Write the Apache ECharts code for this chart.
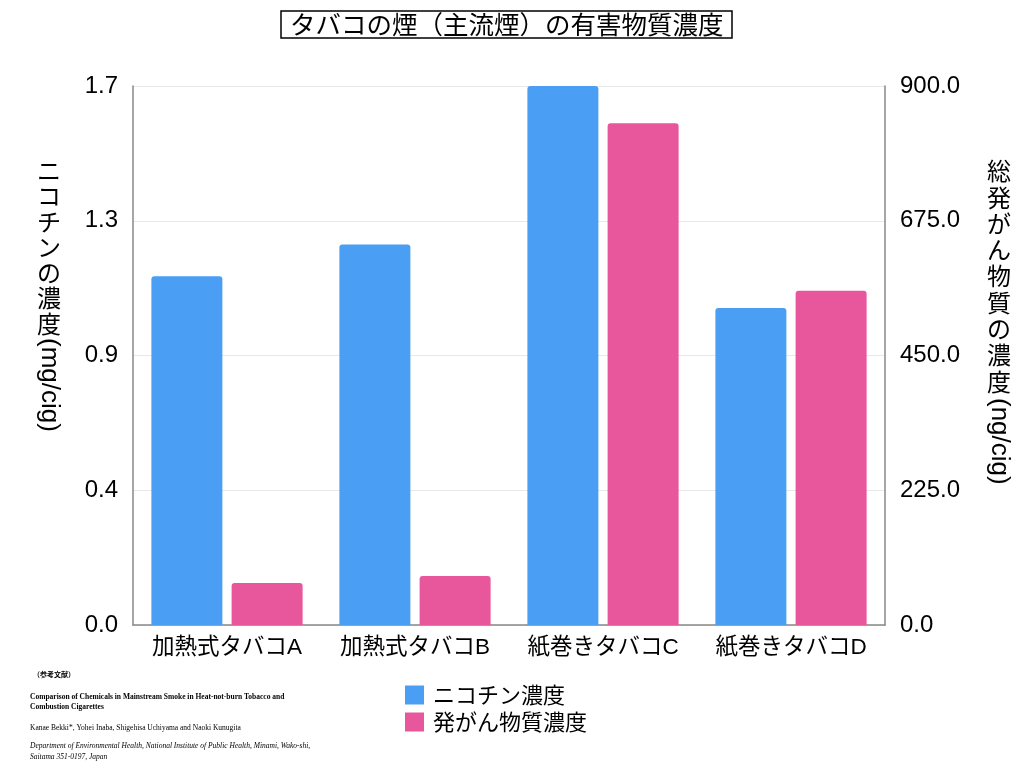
<!DOCTYPE html>
<html>
<head>
<meta charset="utf-8">
<script src="https://cdn.jsdelivr.net/npm/echarts@6/dist/echarts.min.js"></script>
<style>
  html, body { margin: 0; padding: 0; background: #fff; }
  #chart { width: 1024px; height: 768px; }
</style>
</head>
<body>
<div id="chart"></div>
<script>
var categories = ['加熱式タバコA', '加熱式タバコB', '紙巻きタバコC', '紙巻きタバコD'];
var nicotine = [1.1, 1.2, 1.7, 1.0];
var carcinogen = [70, 82, 838, 558];
var leftTicks = ['0.0', '0.4', '0.9', '1.3', '1.7'];
var rightTicks = ['0.0', '225.0', '450.0', '675.0', '900.0'];

var font = '"Noto Sans CJK JP", "Noto Sans", sans-serif';
var numFont = '"Liberation Sans", "Noto Sans CJK JP", sans-serif';
var serif = '"Liberation Serif", "DejaVu Serif", serif';

var myChart = echarts.init(document.getElementById('chart'));
var option = {
    animation: false,
    title: {
        text: 'タバコの煙（主流煙）の有害物質濃度',
        left: 281,
        top: 11,
        padding: [1, 9, 1, 9],
        borderWidth: 1.5,
        borderColor: '#000',
        textStyle: {
            fontFamily: font,
            fontSize: 25.5,
            fontWeight: 'normal',
            color: '#000'
        }
    },
    legend: {
        orient: 'vertical',
        left: 400,
        top: 679,
        itemWidth: 19,
        itemHeight: 19,
        itemGap: 5,
        icon: 'rect',
        textStyle: { fontFamily: font, fontSize: 22, color: '#000', padding: [0, 0, 0, 4] },
        data: ['ニコチン濃度', '発がん物質濃度']
    },
    grid: { left: 133, right: 139, top: 86, bottom: 143 },
    xAxis: {
        type: 'category',
        data: categories,
        axisLine: { lineStyle: { color: '#888', width: 1.5 } },
        axisTick: { show: false },
        axisLabel: { interval: 0, fontFamily: numFont, fontSize: 22.5, color: '#000', margin: 12 }
    },
    yAxis: [
        {
            type: 'value',
            min: 0,
            max: 1.7,
            interval: 0.425,
            axisLine: { show: true, lineStyle: { color: '#888', width: 1.5 } },
            axisTick: { show: false },
            splitLine: { lineStyle: { color: '#e8e8e8' } },
            axisLabel: {
                fontFamily: numFont, fontSize: 24, color: '#000', margin: 15,
                formatter: function (v) { return leftTicks[Math.round(v / 0.425)]; }
            }
        },
        {
            type: 'value',
            min: 0,
            max: 900,
            interval: 225,
            position: 'right',
            axisLine: { show: true, lineStyle: { color: '#888', width: 1.5 } },
            axisTick: { show: false },
            splitLine: { show: false },
            axisLabel: {
                fontFamily: numFont, fontSize: 24, color: '#000', margin: 15,
                formatter: function (v) { return rightTicks[Math.round(v / 225)]; }
            }
        }
    ],
    series: [
        {
            name: 'ニコチン濃度',
            type: 'bar',
            yAxisIndex: 0,
            barWidth: 71,
            barGap: '13%',
            itemStyle: { color: '#4A9FF4', borderRadius: [3, 3, 0, 0] },
            data: nicotine
        },
        {
            name: '発がん物質濃度',
            type: 'bar',
            yAxisIndex: 1,
            barWidth: 71,
            barGap: '13%',
            itemStyle: { color: '#E8569C', borderRadius: [3, 3, 0, 0] },
            data: carcinogen
        }
    ],
    graphic: [
        // left axis name: vertical writing
        { type: 'text', left: 37, top: 158, style: { text: 'ニ\nコ\nチ\nン\nの\n濃\n度', fontFamily: font, fontSize: 24, lineHeight: 25.5, fill: '#000' } },
        { type: 'text', x: 36, y: 338, rotation: -Math.PI / 2, style: { text: '(mg/cig)', fontFamily: numFont, fontSize: 26, fill: '#000', textVerticalAlign: 'bottom' } },
        // right axis name
        { type: 'text', left: 987, top: 158, style: { text: '総\n発\nが\nん\n物\n質\nの\n濃\n度', fontFamily: font, fontSize: 24, lineHeight: 26.3, fill: '#000' } },
        { type: 'text', x: 986, y: 398, rotation: -Math.PI / 2, style: { text: '(ng/cig)', fontFamily: numFont, fontSize: 26, fill: '#000', textVerticalAlign: 'bottom' } },
        // reference
        { type: 'text', left: 33, top: 671, style: { text: '（参考文献）', fontFamily: font, fontSize: 7, fontWeight: 'bold', fill: '#000' } },
        { type: 'text', left: 30, top: 692, style: { text: 'Comparison of Chemicals in Mainstream Smoke in Heat-not-burn Tobacco and\nCombustion Cigarettes', fontFamily: serif, fontSize: 7.5, fontWeight: 'bold', lineHeight: 10, fill: '#000' } },
        { type: 'text', left: 30, top: 724, style: { text: 'Kanae Bekki*, Yohei Inaba, Shigehisa Uchiyama and Naoki Kunugita', fontFamily: serif, fontSize: 7.5, fill: '#000' } },
        { type: 'text', left: 30, top: 741, style: { text: 'Department of Environmental Health, National Institute of Public Health, Minami, Wako-shi,\nSaitama 351-0197, Japan', fontFamily: serif, fontSize: 7.5, fontStyle: 'italic', lineHeight: 11, fill: '#000' } }
    ]
};
myChart.setOption(option);
</script>
</body>
</html>
